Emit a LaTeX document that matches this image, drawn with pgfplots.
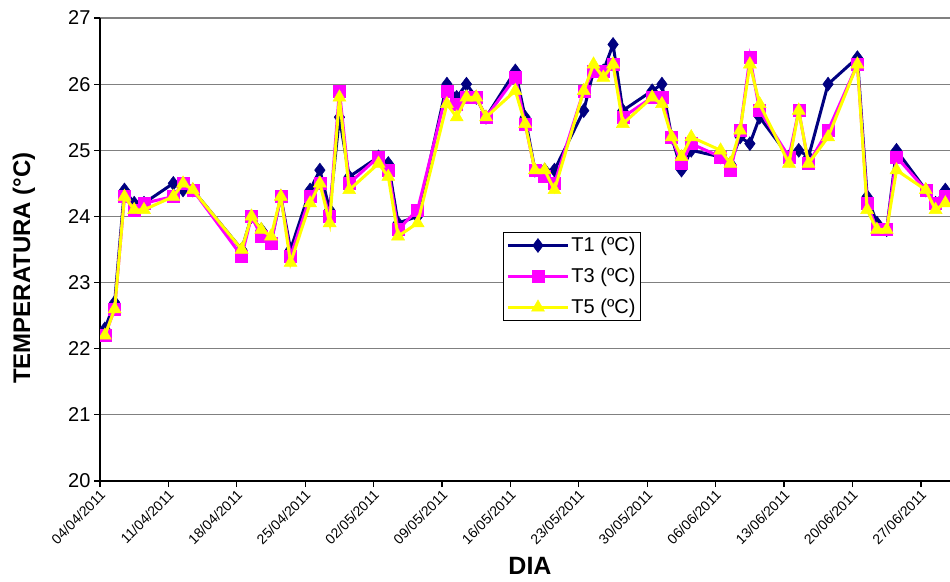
\documentclass[border=0pt]{standalone}
\usepackage{pgfplots}
\pgfplotsset{compat=1.18}
\usepackage{pgfplotstable}
\usepackage{fontspec}
\setmainfont{Liberation Sans}
\definecolor{tnavy}{RGB}{0,0,128}
\definecolor{tmag}{RGB}{255,0,255}
\definecolor{tyel}{RGB}{255,255,0}
\definecolor{gridgray}{RGB}{128,128,128}

\pgfplotstableread{
d  T1   T3   T5
0  22.3 22.2 22.2
1  22.7 22.6 22.6
2  24.4 24.3 24.3
3  24.2 24.1 24.1
4  24.2 24.2 24.1
7  24.5 24.3 24.3
8  24.4 24.5 24.5
9  24.4 24.4 24.4
14 23.5 23.4 23.5
15 24.0 24.0 24.0
16 23.8 23.7 23.8
17 23.6 23.6 23.7
18 24.3 24.3 24.3
19 23.5 23.4 23.3
21 24.4 24.3 24.2
22 24.7 24.5 24.5
23 24.1 24.0 23.9
24 25.5 25.9 25.8
25 24.6 24.5 24.4
28 24.9 24.9 24.8
29 24.8 24.7 24.6
30 23.9 23.8 23.7
32 24.0 24.1 23.9
35 26.0 25.9 25.7
36 25.8 25.7 25.5
37 26.0 25.8 25.8
38 25.8 25.8 25.8
39 25.5 25.5 25.5
42 26.2 26.1 25.9
43 25.5 25.4 25.4
44 24.7 24.7 24.7
45 24.7 24.6 24.7
46 24.7 24.5 24.4
49 25.6 25.9 25.9
50 26.2 26.2 26.3
51 26.2 26.2 26.1
52 26.6 26.3 26.3
53 25.6 25.5 25.4
56 25.9 25.8 25.8
57 26.0 25.8 25.7
58 25.2 25.2 25.2
59 24.7 24.8 24.9
60 25.0 25.1 25.2
63 24.9 24.9 25.0
64 24.8 24.7 24.8
65 25.2 25.3 25.3
66 25.1 26.4 26.3
67 25.5 25.6 25.7
70 24.9 24.9 24.8
71 25.0 25.6 25.6
72 24.9 24.8 24.8
74 26.0 25.3 25.2
77 26.4 26.3 26.3
78 24.3 24.2 24.1
79 23.9 23.8 23.8
80 23.8 23.8 23.8
81 25.0 24.9 24.7
84 24.4 24.4 24.4
85 24.2 24.2 24.1
86 24.4 24.3 24.2
}\data

\begin{document}
\begin{tikzpicture}
\useasboundingbox (0,0) rectangle (950pt,581pt);
\begin{axis}[
  at={(100pt,100pt)}, anchor=south west,
  scale only axis, width=860pt, height=463pt,
  xmin=0, xmax=88, ymin=20, ymax=27,
  axis x line=bottom, axis y line=left,
  axis line style={-, black, line width=1.3pt},
  tick align=outside,
  major tick length=6pt,
  tick style={black, line width=1.2pt},
  ytick={20,21,...,27},
  ymajorgrids, grid style={gridgray, line width=1.2pt},
  xtick={0,7,...,84},
  xticklabels={04/04/2011,11/04/2011,18/04/2011,25/04/2011,02/05/2011,09/05/2011,16/05/2011,23/05/2011,30/05/2011,06/06/2011,13/06/2011,20/06/2011,27/06/2011},
  /pgf/number format/assume math mode=true,
  yticklabel style={font=\fontsize{20}{24}\selectfont},
  xticklabel style={font=\fontsize{14}{16}\selectfont, rotate=45, anchor=east, inner sep=2pt, yshift=-6pt},
  xlabel={\textbf{DIA}},
  ylabel={\textbf{TEMPERATURA (°C)}},
  xlabel style={font=\fontsize{25}{30}\selectfont, at={(axis description cs:0.5,-0.184)}, anchor=center},
  ylabel style={font=\fontsize{24}{29}\selectfont, at={(axis description cs:-0.0884,0.46)}, anchor=center},
  legend style={at={(rel axis cs:0.4686,0.5378)}, anchor=north west,
    draw=black, line width=1pt, fill=white,
    font=\fontsize{20}{24}\selectfont, row sep=11pt, inner sep=3pt},
  legend cell align=left,
  legend image code/.code={
    \draw[mark repeat=2,mark phase=2] plot coordinates {(0pt,0pt) (30pt,0pt) (60pt,0pt)};
  },
  clip marker paths=true,
]
\addplot[tnavy, line width=3pt, mark=diamond*, mark size=7pt, mark options={fill=tnavy, draw=tnavy, line width=0.5pt}]
  table[x expr=\thisrow{d}+0.5, y=T1] {\data};
\addlegendentry{T1 (ºC)}
\addplot[tmag, line width=3pt, mark=square*, mark size=6pt, mark options={fill=tmag, draw=tmag, line width=0.5pt}]
  table[x expr=\thisrow{d}+0.5, y=T3] {\data};
\addlegendentry{T3 (ºC)}
\addplot[tyel, line width=3pt, mark=triangle*, mark size=7.5pt, mark options={fill=tyel, draw=tyel, line width=0.5pt}]
  table[x expr=\thisrow{d}+0.5, y=T5] {\data};
\addlegendentry{T5 (ºC)}
\end{axis}
\end{tikzpicture}
\end{document}
